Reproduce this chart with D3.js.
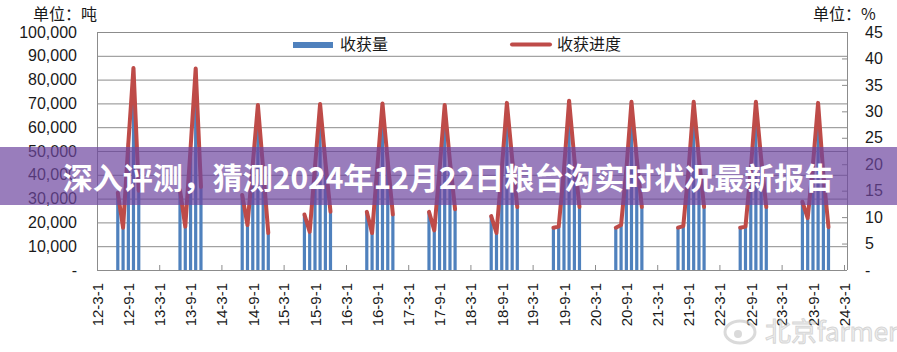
<!DOCTYPE html>
<html>
<head>
<meta charset="utf-8">
<script src="https://cdn.jsdelivr.net/npm/d3@7"></script>
<style>
  html, body { margin: 0; padding: 0; background: #fff; }
  svg { display: block; }
</style>
</head>
<body>
<div id="chart"></div>
<script>
// harvest seasons, monthly points from July (null = no report)
const years = [2012, 2013, 2014, 2015, 2016, 2017, 2018, 2019, 2020, 2021, 2022, 2023]
const seasonMonths = [7, 8, 9, 10, 11, 12]

// 收获量 (tonnes)
const harvest = [
  [32400, 17800, 53300, 84900, 33300, null],
  [33600, 18200, 51100, 84700, 34900, null],
  [31600, 18900, 44400, 69300, 42200, 15600],
  [23300, 16000, 43300, 69800, 45600, 24400],
  [24400, 15600, 43300, 70000, 45600, 23300],
  [24400, 16700, 42200, 69300, 45600, 25600],
  [22700, 15600, 42200, 70200, 46700, 26400],
  [17800, 18200, 42200, 71100, 46700, 26400],
  [17800, 18900, 42200, 70700, 46700, 26400],
  [17800, 18400, 42200, 70700, 46700, 26400],
  [17800, 18200, 42200, 70700, 46700, 26400],
  [28700, 21800, 44400, 70200, 40000, 18000]
]

// 收获进度 (%)
const progress = [
  [14.6, 8.0, 24.0, 38.2, 15.0, null],
  [15.1, 8.2, 23.0, 38.1, 15.7, null],
  [14.2, 8.5, 20.0, 31.2, 19.0, 7.0],
  [10.5, 7.2, 19.5, 31.4, 20.5, 11.0],
  [11.0, 7.0, 19.5, 31.5, 20.5, 10.5],
  [11.0, 7.5, 19.0, 31.2, 20.5, 11.5],
  [10.2, 7.0, 19.0, 31.6, 21.0, 11.9],
  [8.0, 8.2, 19.0, 32.0, 21.0, 11.9],
  [8.0, 8.5, 19.0, 31.8, 21.0, 11.9],
  [8.0, 8.3, 19.0, 31.8, 21.0, 11.9],
  [8.0, 8.2, 19.0, 31.8, 21.0, 11.9],
  [12.9, 9.8, 20.0, 31.6, 18.0, 8.1]
]

const xTickLabels = ["12-3-1", "12-9-1", "13-3-1", "13-9-1", "14-3-1", "14-9-1", "15-3-1", "15-9-1",
  "16-3-1", "16-9-1", "17-3-1", "17-9-1", "18-3-1", "18-9-1", "19-3-1", "19-9-1", "20-3-1", "20-9-1",
  "21-3-1", "21-9-1", "22-3-1", "22-9-1", "23-3-1", "23-9-1", "24-3-1"]
const leftTicks = [0, 10000, 20000, 30000, 40000, 50000, 60000, 70000, 80000, 90000, 100000]
const rightTicks = [0, 5, 10, 15, 20, 25, 30, 35, 40, 45]
const legendNames = ["收获量", "收获进度"]
const title = "深入评测，猜测2024年12月22日粮台沟实时状况最新报告"

const width = 897, height = 352
const margin = {top: 32, left: 97, right: 50, bottom: 82}
const plotRight = width - margin.right
const plotBottom = height - margin.bottom
const font = "'Liberation Sans', Arial, sans-serif"
const cjk = "'Noto Sans CJK SC', sans-serif"

const parse = d3.timeParse("%y-%-m-%-d")
const tickDates = xTickLabels.map(parse)

const x = d3.scaleTime()
  .domain([tickDates[0], tickDates[tickDates.length - 1]])
  .range([margin.left, 844])
const yL = d3.scaleLinear().domain([0, 100000]).range([plotBottom, margin.top])
const yR = d3.scaleLinear().domain([0, 45]).range([plotBottom, margin.top])

const svg = d3.select("#chart").append("svg")
  .attr("width", width).attr("height", height)
  .attr("viewBox", [0, 0, width, height])

// grid
svg.append("g").selectAll("line").data(leftTicks.slice(1)).enter().append("line")
  .attr("x1", margin.left).attr("x2", plotRight)
  .attr("y1", d => yL(d) + 0.5).attr("y2", d => yL(d) + 0.5)
  .attr("stroke", "#8c8c8c").attr("stroke-width", 1)

// bars
const barData = []
const lineData = []
years.forEach((yr, i) => {
  const seg = []
  seasonMonths.forEach((m, j) => {
    const date = new Date(yr, m - 1, 1)
    if (harvest[i][j] != null) barData.push({date, v: harvest[i][j]})
    if (progress[i][j] != null) seg.push({date, v: progress[i][j]})
  })
  lineData.push(seg)
})

const barW = 3.2
svg.append("g").attr("fill", "#4F81BD")
  .selectAll("rect").data(barData).enter().append("rect")
  .attr("x", d => x(d.date) - barW / 2)
  .attr("y", d => yL(d.v))
  .attr("width", barW)
  .attr("height", d => yL(0) - yL(d.v))

// line
const line = d3.line().x(d => x(d.date)).y(d => yR(d.v))
svg.append("g").selectAll("path").data(lineData).enter().append("path")
  .attr("d", line)
  .attr("fill", "none")
  .attr("stroke", "#BE4B48")
  .attr("stroke-width", 4)
  .attr("stroke-linejoin", "round")
  .attr("stroke-linecap", "round")

// frame
const frame = svg.append("g").attr("stroke", "#8c8c8c").attr("stroke-width", 1)
frame.append("line").attr("x1", margin.left + 0.5).attr("x2", margin.left + 0.5)
  .attr("y1", margin.top).attr("y2", plotBottom)
frame.append("line").attr("x1", plotRight + 0.5).attr("x2", plotRight + 0.5)
  .attr("y1", margin.top).attr("y2", plotBottom)
frame.append("line").attr("x1", margin.left).attr("x2", plotRight)
  .attr("y1", plotBottom + 0.5).attr("y2", plotBottom + 0.5)

// left axis
const leftAxis = svg.append("g")
  .attr("transform", `translate(${margin.left},0)`)
  .call(d3.axisLeft(yL).tickValues(leftTicks).tickSize(0).tickPadding(20)
    .tickFormat(d => d === 0 ? "-" : d3.format(",")(d)))
leftAxis.select(".domain").remove()
leftAxis.selectAll("text").attr("font-family", font).attr("font-size", 16).attr("fill", "#1a1a1a")

// right axis
const rightAxis = svg.append("g")
  .attr("transform", `translate(${plotRight},0)`)
  .call(d3.axisRight(yR).tickValues(rightTicks).tickSizeInner(-5).tickSizeOuter(0).tickPadding(18)
    .tickFormat(d => d === 0 ? "-" : d))
rightAxis.select(".domain").remove()
rightAxis.selectAll("line").attr("stroke", "#8c8c8c")
rightAxis.selectAll("text").attr("font-family", font).attr("font-size", 16).attr("fill", "#1a1a1a")

// bottom axis
const bottomAxis = svg.append("g")
  .attr("transform", `translate(0,${plotBottom})`)
  .call(d3.axisBottom(x).tickValues(tickDates).tickSize(0).tickFormat(d3.timeFormat("%y-%-m-%-d")))
bottomAxis.select(".domain").remove()
bottomAxis.selectAll("text")
  .attr("font-family", font).attr("font-size", 15).attr("fill", "#1a1a1a")
  .attr("text-anchor", "end")
  .attr("transform", "translate(0,13) rotate(-90)")
  .attr("x", 0).attr("y", 0).attr("dy", "0.35em")

// yearly inner ticks on the x axis
svg.append("g").selectAll("line").data(tickDates.filter(d => d.getMonth() === 2)).enter().append("line")
  .attr("x1", d => x(d) + 0.5).attr("x2", d => x(d) + 0.5)
  .attr("y1", plotBottom - 5).attr("y2", plotBottom)
  .attr("stroke", "#8c8c8c")

// units
svg.append("text").attr("x", 33).attr("y", 20)
  .attr("font-family", cjk).attr("font-size", 16).attr("fill", "#1a1a1a").text("单位：吨")
svg.append("text").attr("x", 813).attr("y", 20)
  .attr("font-family", cjk).attr("font-size", 16).attr("fill", "#1a1a1a").text("单位：%")

// legend
const legend = svg.append("g").attr("font-family", cjk).attr("font-size", 16).attr("fill", "#1a1a1a")
legend.append("rect").attr("x", 293).attr("y", 42).attr("width", 40).attr("height", 6).attr("fill", "#4F81BD")
legend.append("text").attr("x", 340).attr("y", 50).text(legendNames[0])
legend.append("line").attr("x1", 512).attr("x2", 550).attr("y1", 44.5).attr("y2", 44.5)
  .attr("stroke", "#BE4B48").attr("stroke-width", 4).attr("stroke-linecap", "round")
legend.append("text").attr("x", 557).attr("y", 50).text(legendNames[1])

// banner
svg.append("rect").attr("x", 0).attr("y", 147).attr("width", width).attr("height", 58)
  .attr("fill", "rgb(110,70,160)").attr("opacity", 0.7)
svg.append("text").attr("x", width / 2).attr("y", 176)
  .attr("text-anchor", "middle").attr("dominant-baseline", "central")
  .attr("font-family", cjk).attr("font-weight", 700).attr("font-size", 30)
  .attr("fill", "#fff").text(title)

// watermark
const wm = svg.append("g").attr("opacity", 0.55)
wm.append("ellipse").attr("cx", 740).attr("cy", 332).attr("rx", 15).attr("ry", 11)
  .attr("fill", "none").attr("stroke", "#bdbdbd").attr("stroke-width", 3)
wm.append("circle").attr("cx", 738).attr("cy", 334).attr("r", 4).attr("fill", "#bdbdbd")
wm.append("text").attr("x", 765).attr("y", 341)
  .attr("font-family", cjk).attr("font-size", 26).attr("fill", "#e4e4e4")
  .attr("stroke", "#b5b5b5").attr("stroke-width", 1).text("北京farmer")
</script>
</body>
</html>
